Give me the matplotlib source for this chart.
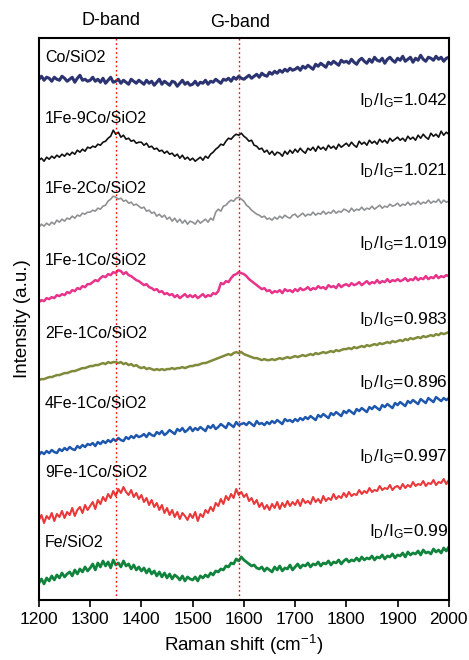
import numpy as np
import matplotlib
matplotlib.use('Agg')
import matplotlib.pyplot as plt

plt.rcParams['font.family'] = ['Liberation Sans', 'DejaVu Sans']
plt.rcParams['mathtext.fontset'] = 'custom'
plt.rcParams['mathtext.rm'] = 'Liberation Sans'

# Wavenumber grid (cm-1)
shift = np.arange(1200, 2001, 5)

samples = ['Co/SiO2', '1Fe-9Co/SiO2', '1Fe-2Co/SiO2', '1Fe-1Co/SiO2',
           '2Fe-1Co/SiO2', '4Fe-1Co/SiO2', '9Fe-1Co/SiO2', 'Fe/SiO2']
ratios = [None, '1.042', '1.021', '1.019', '0.983', '0.896', '0.997', '0.99']

# Intensities (a.u.), one row per 100 cm-1
co = [0, 3, -1, 2, 1, -2, 2, 0, -1, 3, 1, -2, 0, 2, -3, 1, 4, -1, 0, -2,
      -1, 2, -2, 0, -3, 1, -4, -1, 2, -3, -2, 0, -4, -1, -3, -5, 0, -2, -4, -1,
      -3, -5, -1, -4, -2, -6, -3, 0, -5, -2, -4, -6, -2, -3, -7, -4, -1, -5, -3, -6,
      -5, -2, -6, -3, -4, -1, -5, -2, -3, 0, -2, -4, 0, -1, 1, -2, 2, 0, 3, 1,
      0, 2, 4, 1, 3, 5, 2, 6, 4, 3, 7, 5, 8, 6, 9, 7, 10, 8, 11, 9,
      10, 12, 9, 13, 11, 14, 12, 10, 15, 13, 16, 14, 12, 17, 15, 18, 16, 14, 19, 17,
      18, 16, 20, 17, 15, 19, 21, 18, 16, 20, 17, 22, 19, 18, 21, 16, 20, 22, 19, 17,
      21, 19, 23, 18, 20, 22, 17, 21, 19, 24, 20, 18, 22, 21, 19, 23, 20, 22, 18, 21,
      22]
fe1co9 = [0, 2, -1, 3, 1, 4, 2, 5, 3, 6, 4, 7, 5, 8, 6, 10, 8, 11, 9, 13,
          12, 14, 13, 16, 15, 18, 19, 22, 24, 30, 26, 28, 23, 25, 21, 22, 19, 20, 17, 18,
          18, 15, 17, 13, 14, 11, 12, 9, 10, 7, 9, 6, 7, 4, 6, 2, 5, 1, 3, 0,
          2, -1, 1, 3, 0, 4, 2, 6, 8, 11, 13, 16, 15, 19, 22, 21, 24, 26, 25, 27,
          24, 22, 19, 20, 15, 14, 11, 12, 8, 10, 6, 9, 5, 8, 7, 4, 9, 6, 10, 7,
          11, 8, 12, 9, 7, 12, 10, 13, 9, 14, 11, 13, 10, 15, 12, 14, 11, 16, 13, 15,
          17, 14, 18, 15, 13, 19, 16, 18, 15, 20, 17, 19, 16, 21, 18, 20, 17, 22, 19, 21,
          23, 20, 22, 19, 24, 21, 23, 20, 25, 22, 26, 23, 21, 27, 24, 26, 23, 29, 25, 28,
          26]
fe1co2 = [0, 3, 1, 4, 2, 5, 3, 7, 5, 8, 6, 9, 8, 11, 9, 12, 11, 14, 13, 15,
          15, 17, 16, 19, 18, 21, 22, 26, 28, 31, 30, 28, 29, 26, 27, 24, 25, 22, 23, 21,
          19, 20, 16, 17, 14, 15, 11, 13, 10, 12, 8, 10, 6, 9, 5, 8, 4, 7, 3, 6,
          5, 3, 7, 4, 6, 8, 5, 9, 7, 15, 18, 16, 21, 22, 25, 27, 26, 29, 30, 28,
          26, 22, 20, 17, 15, 13, 12, 10, 11, 8, 9, 7, 10, 8, 11, 9, 12, 10, 9, 12,
          13, 10, 12, 14, 11, 13, 12, 15, 12, 14, 13, 16, 13, 15, 14, 17, 14, 16, 15, 18,
          17, 15, 19, 16, 18, 17, 20, 17, 19, 18, 21, 18, 20, 22, 19, 21, 20, 23, 21, 22,
          24, 21, 23, 22, 25, 22, 24, 23, 26, 23, 25, 24, 27, 24, 26, 25, 28, 24, 27, 25,
          26]
fe1co1 = [0, 2, 1, 4, 3, 5, 4, 7, 6, 8, 7, 10, 9, 12, 11, 14, 13, 16, 15, 18,
          18, 20, 22, 21, 24, 26, 25, 28, 27, 30, 29, 32, 31, 28, 30, 27, 26, 24, 22, 21,
          19, 17, 18, 15, 14, 12, 13, 10, 11, 8, 9, 7, 8, 5, 7, 4, 6, 8, 5, 7,
          5, 7, 4, 6, 8, 5, 7, 6, 9, 8, 11, 19, 18, 21, 20, 24, 27, 28, 30, 29,
          28, 26, 23, 21, 19, 17, 15, 13, 14, 11, 12, 9, 11, 10, 12, 9, 13, 11, 12, 10,
          13, 11, 14, 12, 13, 15, 12, 14, 13, 16, 14, 15, 13, 17, 15, 16, 14, 18, 15, 17,
          18, 16, 19, 17, 18, 20, 17, 19, 21, 18, 20, 19, 22, 19, 21, 20, 23, 20, 22, 21,
          23, 21, 22, 24, 21, 23, 22, 25, 22, 24, 23, 26, 23, 25, 24, 27, 24, 26, 25, 27,
          26]
fe2co1 = [0, 1, 1, 2, 3, 3, 4, 5, 5, 6, 7, 7, 8, 9, 9, 10, 11, 12, 12, 13,
          14, 14, 15, 15, 16, 17, 16, 18, 17, 18, 18, 17, 18, 16, 17, 15, 16, 14, 15, 13,
          12, 13, 11, 12, 11, 10, 11, 10, 11, 10, 11, 11, 12, 11, 12, 12, 13, 12, 13, 14,
          14, 15, 15, 16, 17, 17, 18, 19, 20, 21, 22, 23, 24, 25, 26, 25, 27, 28, 27, 28,
          26, 25, 24, 23, 22, 22, 21, 20, 21, 20, 20, 21, 20, 21, 22, 21, 22, 23, 22, 23,
          24, 23, 24, 25, 24, 25, 26, 25, 27, 26, 27, 28, 27, 28, 29, 28, 30, 29, 30, 31,
          31, 32, 31, 33, 32, 33, 34, 33, 35, 34, 35, 36, 35, 37, 36, 37, 38, 37, 39, 38,
          39, 40, 39, 41, 40, 42, 41, 42, 43, 42, 44, 43, 44, 45, 44, 46, 45, 47, 46, 47,
          48]
fe4co1 = [0, 3, 1, 4, 2, 5, 3, 2, 6, 4, 7, 5, 8, 6, 5, 9, 7, 10, 8, 11,
          10, 12, 9, 13, 11, 14, 12, 15, 13, 16, 14, 17, 15, 14, 18, 16, 19, 17, 20, 18,
          19, 21, 18, 22, 20, 19, 23, 21, 24, 20, 22, 25, 23, 21, 26, 24, 27, 23, 25, 28,
          24, 27, 25, 28, 26, 24, 29, 27, 30, 26, 28, 31, 29, 27, 32, 30, 28, 33, 30, 31,
          32, 30, 33, 31, 29, 34, 31, 32, 30, 33, 31, 34, 32, 35, 33, 31, 36, 34, 35, 33,
          36, 34, 37, 35, 38, 36, 39, 37, 35, 40, 38, 41, 39, 37, 42, 40, 43, 41, 39, 44,
          42, 45, 43, 41, 46, 44, 47, 45, 43, 48, 46, 49, 47, 45, 50, 48, 51, 49, 47, 52,
          50, 53, 51, 49, 54, 52, 55, 53, 51, 56, 54, 52, 57, 55, 53, 58, 56, 54, 57, 55,
          57]
fe9co1 = [0, 5, -3, 4, 1, 7, -1, 6, 3, 9, 2, 8, 5, 12, 4, 10, 13, 7, 15, 10,
          14, 18, 11, 20, 16, 23, 19, 26, 22, 29, 24, 31, 27, 33, 28, 25, 30, 23, 27, 21,
          25, 18, 22, 15, 20, 13, 17, 10, 15, 7, 12, 5, 10, 3, 8, 1, 7, 4, 0, 6,
          2, 8, -1, 6, 3, 10, 7, 13, 9, 17, 14, 21, 16, 24, 20, 26, 22, 31, 25, 28,
          23, 26, 19, 22, 16, 20, 13, 17, 11, 15, 10, 16, 12, 18, 11, 17, 13, 19, 14, 18,
          15, 20, 14, 21, 17, 19, 16, 23, 18, 21, 17, 24, 19, 22, 20, 26, 21, 24, 22, 27,
          23, 28, 24, 26, 25, 30, 26, 29, 27, 32, 28, 30, 29, 34, 30, 32, 31, 35, 30, 33,
          34, 31, 36, 32, 35, 33, 38, 34, 36, 35, 39, 34, 37, 36, 40, 35, 38, 37, 41, 36,
          40]
fe = [0, 4, -1, 5, 2, 7, 3, 8, 5, 10, 6, 9, 11, 7, 13, 9, 14, 11, 16, 12,
      15, 19, 13, 20, 16, 22, 17, 21, 15, 23, 18, 20, 16, 22, 17, 19, 14, 18, 13, 16,
      12, 15, 10, 14, 9, 12, 7, 11, 6, 10, 5, 9, 4, 8, 6, 3, 7, 2, 6, 4,
      3, 6, 2, 7, 5, 8, 6, 10, 8, 12, 11, 14, 13, 17, 16, 20, 19, 24, 22, 26,
      23, 21, 19, 17, 18, 15, 14, 16, 12, 15, 13, 11, 16, 13, 17, 12, 15, 14, 18, 13,
      16, 19, 15, 18, 17, 20, 16, 19, 18, 21, 17, 20, 19, 22, 18, 21, 20, 23, 19, 22,
      24, 21, 23, 22, 25, 22, 26, 23, 25, 24, 27, 23, 26, 25, 28, 24, 27, 26, 29, 25,
      28, 27, 30, 26, 31, 28, 30, 29, 32, 28, 33, 30, 31, 29, 34, 31, 33, 30, 35, 32,
      36]
spectra = [co, fe1co9, fe1co2, fe1co1, fe2co1, fe4co1, fe9co1, fe]

# Stacking offsets and styles
offsets = [521, 440, 373, 298, 220, 145, 80, 17]
label_y = [543, 482, 412, 340, 267, 197, 128, 57]
ratio_y = [None, 500, 430, 357, 280, 217, 143, 68]
colors = ['#2b3370', '#111111', '#8e9092', '#e8338a', '#7f8a3a',
          '#1e58ae', '#e8383a', '#10843c']
widths = [2.2, 1.2, 1.2, 1.8, 1.8, 1.8, 1.5, 2.0]

fig = plt.figure(figsize=(4.69, 6.6), dpi=100)
ax = fig.add_axes([0.083, 0.091, 0.874, 0.851])

for spec, off, c, lw in zip(spectra, offsets, colors, widths):
    ax.plot(shift, np.array(spec) + off, color=c, lw=lw)

for x0 in (1350, 1590):
    ax.axvline(x0, color='red', ls=(0, (1.2, 2)), lw=1)

for name, ly in zip(samples, label_y):
    ax.text(1212, ly, name, fontsize=11.5, ha='left', va='center')

for r, ry in zip(ratios, ratio_y):
    if r is not None:
        ax.text(1998, ry, r'$\mathregular{I_D/I_G}$=' + r, fontsize=12.5,
                ha='right', va='center')

ax.text(1340, 580, 'D-band', fontsize=13, ha='center', va='center', clip_on=False)
ax.text(1592, 578, 'G-band', fontsize=13, ha='center', va='center', clip_on=False)

ax.set_xlim(1200, 2000)
ax.set_ylim(0, 562)
ax.set_xticks(np.arange(1200, 2001, 100))
ax.set_yticks([])
ax.tick_params(axis='x', direction='out', length=5, width=1.2, labelsize=12.5)
for s in ax.spines.values():
    s.set_linewidth(1.5)
ax.set_xlabel('Raman shift (cm$^{-1}$)', fontsize=13.5, labelpad=4)
ax.set_ylabel('Intensity (a.u.)', fontsize=13.5, labelpad=6)

fig.savefig('out.png', dpi=100)
